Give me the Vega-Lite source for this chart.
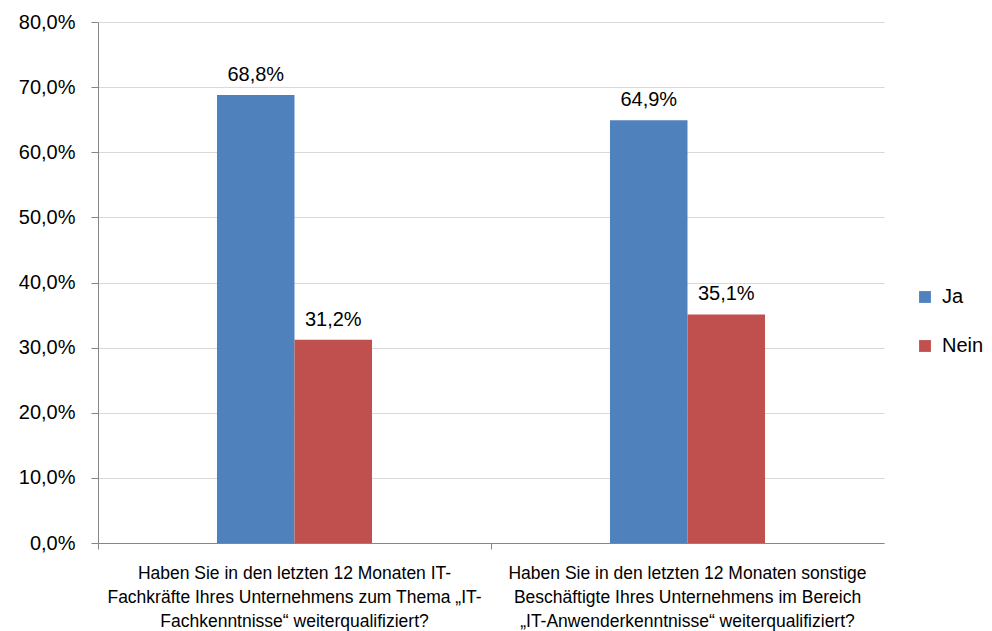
{
  "$schema": "https://vega.github.io/schema/vega-lite/v6.json",
  "autosize": {"type": "none"},
  "padding": {"left": 98, "top": 22, "right": 108, "bottom": 88},
  "width": 786,
  "height": 521,
  "background": "white",
  "data": {
    "values": [
      {"frage": "A", "antwort": "Ja", "wert": 0.688},
      {"frage": "A", "antwort": "Nein", "wert": 0.312},
      {"frage": "B", "antwort": "Ja", "wert": 0.649},
      {"frage": "B", "antwort": "Nein", "wert": 0.351}
    ]
  },
  "encoding": {
    "x": {
      "field": "frage",
      "type": "nominal",
      "scale": {"paddingInner": 0, "paddingOuter": 0},
      "axis": {
        "title": null,
        "labelAngle": 0,
        "bandPosition": 0,
        "labelExpr": "datum.value == 'A' ? ['Haben Sie in den letzten 12 Monaten IT-', 'Fachkräfte Ihres Unternehmens zum Thema „IT-', 'Fachkenntnisse“ weiterqualifiziert?'] : ['Haben Sie in den letzten 12 Monaten sonstige', 'Beschäftigte Ihres Unternehmens im Bereich', '„IT-Anwenderkenntnisse“ weiterqualifiziert?']",
        "labelFont": "Liberation Sans",
        "labelFontSize": 17.5,
        "labelLineHeight": 24,
        "labelPadding": 15,
        "labelColor": "#000000",
        "labelBaseline": "top",
        "domainColor": "#868686",
        "tickColor": "#868686",
        "tickSize": 6,
        "labelBound": false,
        "labelOverlap": false,
        "labelLimit": 0
      }
    },
    "xOffset": {
      "field": "antwort",
      "type": "nominal",
      "scale": {"domain": ["_a", "Ja", "Nein", "_b"], "paddingInner": 0, "paddingOuter": 0.535}
    },
    "y": {
      "field": "wert",
      "type": "quantitative",
      "scale": {"domain": [0, 0.8], "nice": false},
      "axis": {
        "title": null,
        "values": [0, 0.1, 0.2, 0.3, 0.4, 0.5, 0.6, 0.7, 0.8],
        "labelExpr": "replace(format(datum.value, '.1%'), '.', ',')",
        "labelFont": "Liberation Sans",
        "labelFontSize": 20,
        "labelColor": "#000000",
        "labelPadding": 16,
        "domainColor": "#868686",
        "tickColor": "#868686",
        "tickSize": 7,
        "gridColor": "#d9d9d9",
        "grid": true
      }
    }
  },
  "layer": [
    {
      "mark": {"type": "bar"},
      "encoding": {
        "color": {
          "field": "antwort",
          "type": "nominal",
          "scale": {"domain": ["Ja", "Nein"], "range": ["#4F81BD", "#C0504D"]},
          "legend": {
            "title": null,
            "orient": "none",
            "legendX": 817,
            "legendY": 265,
            "symbolType": "square",
            "symbolSize": 140,
            "symbolStrokeWidth": 0,
            "labelFont": "Liberation Sans",
            "labelFontSize": 20,
            "labelColor": "#000000",
            "rowPadding": 29,
            "labelOffset": 7
          }
        }
      }
    },
    {
      "mark": {"type": "text", "baseline": "bottom", "dy": -10, "font": "Liberation Sans", "fontSize": 20, "color": "#000000"},
      "encoding": {
        "text": {"field": "wert", "type": "quantitative", "format": ".1%"}
      }
    }
  ],
  "config": {
    "view": {"stroke": null},
    "locale": {"number": {"decimal": ",", "thousands": ".", "grouping": [3], "currency": ["", " €"]}}
  }
}
